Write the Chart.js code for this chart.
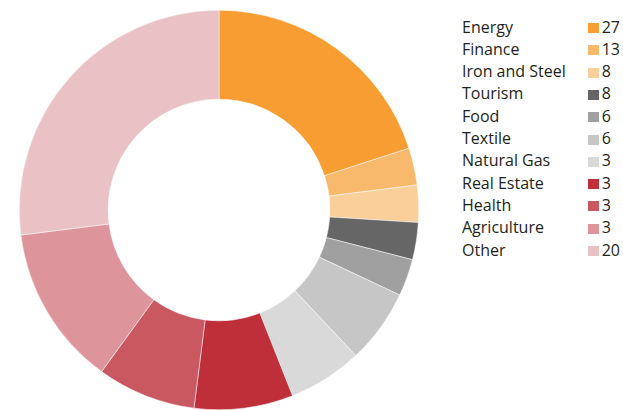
<!DOCTYPE html>
<html>
<head>
<meta charset="utf-8">
<script src="https://cdn.jsdelivr.net/npm/chart.js@4/dist/chart.umd.min.js"></script>
<style>
  html, body { margin: 0; padding: 0; background: #fff; }
  body { width: 623px; height: 410px; position: relative; overflow: hidden; }
  #wrap { position: absolute; left: 19px; top: 10px; width: 400px; height: 400px; }
  #legend { position: absolute; left: 462px; top: 15.6px; font-family: "Open Sans", sans-serif; font-size: 16px; color: #231f20; }
  .row { position: relative; height: 22.3px; line-height: 22.3px; white-space: nowrap; }
  .box { position: absolute; left: 126px; top: 7.5px; width: 11px; height: 10px; }
  .num { position: absolute; left: 139.7px; top: 0; }
</style>
</head>
<body>
<div id="wrap"><canvas id="chart"></canvas></div>
<div id="legend"></div>
<script>
// sectors, legend order
const categories = ["Energy", "Finance", "Iron and Steel", "Tourism", "Food", "Textile",
  "Natural Gas", "Real Estate", "Health", "Agriculture", "Other"];
// figures printed next to the legend
const legendValues = [27, 13, 8, 8, 6, 6, 3, 3, 3, 3, 20];
// slice sizes as drawn in the ring (the legend figures in reverse order)
const sliceValues = [20, 3, 3, 3, 3, 6, 6, 8, 8, 13, 27];
const colors = ["#f89d31", "#f9b96d", "#fbcf99", "#666666", "#a0a0a0", "#c6c6c6",
  "#d9d9d9", "#be2f3a", "#ca5861", "#dd959b", "#eac1c4"];

// html legend
const legend = document.getElementById("legend");
categories.forEach((name, i) => {
  const row = document.createElement("div");
  row.className = "row";
  row.innerHTML = '<span>' + name + '</span><span class="box" style="background:' + colors[i] +
    '"></span><span class="num">' + legendValues[i] + '</span>';
  legend.appendChild(row);
});

new Chart(document.getElementById("chart"), {
  type: "doughnut",
  data: {
    labels: categories,
    datasets: [{
      data: sliceValues,
      backgroundColor: colors,
      borderColor: "#ffffff",
      borderWidth: 0.5,
    }],
  },
  options: {
    responsive: true,
    maintainAspectRatio: false,
    animation: false,
    cutout: "55.5%",
    layout: { padding: 0 },
    plugins: {
      legend: { display: false },
      tooltip: { enabled: false },
    },
  },
});
</script>
</body>
</html>
